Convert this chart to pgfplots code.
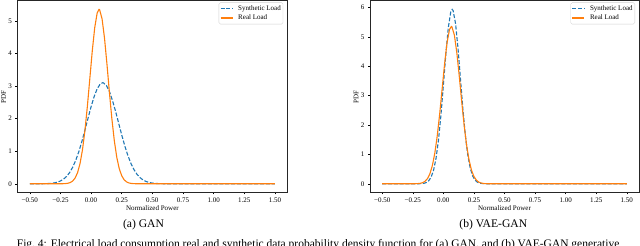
\documentclass[border=0pt]{standalone}
\usepackage{fontspec}
\setmainfont{Liberation Serif}
\usepackage{pgfplots}
\pgfplotsset{compat=1.18}
\definecolor{mplblue}{HTML}{1F77B4}
\definecolor{mplorange}{HTML}{FF7F0E}
\pgfplotsset{
  pdfax/.style={
    scale only axis,
    anchor=south west,
    xmin=-0.6, xmax=1.6,
    tick align=outside,
    major tick length=2pt,
    xtick pos=bottom, ytick pos=left,
    tick style={black, line width=0.5pt},
    axis line style={line width=0.6pt, black!85},
    xtick={-0.5,-0.25,0,0.25,0.5,0.75,1,1.25,1.5},
    xticklabels={−0.50,−0.25,0.00,0.25,0.50,0.75,1.00,1.25,1.50},
    ticklabel style={font=\fontsize{7}{8}\selectfont},
    label style={font=\fontsize{7}{8}\selectfont},
    xlabel={Normalized Power},
    ylabel={PDF},
    xlabel style={at={(axis description cs:0.5,0)}, anchor=center, yshift=-15.5pt},
    ylabel style={at={(axis description cs:0,0.5)}, anchor=center, yshift=14pt},
    legend cell align=left,
    legend style={at={(rel axis cs:1,1)}, anchor=north east, xshift=-4pt, yshift=-1.8pt,
      draw=black!18, rounded corners=1.5pt, fill=white, fill opacity=0.8, text opacity=1,
      font=\fontsize{7}{8}\selectfont, inner xsep=1.2pt, inner ysep=1.8pt, row sep=0.8pt,
      column sep=4pt,
      nodes={inner sep=1pt, text height=5pt, text depth=1.5pt}},
    legend image code/.code={\draw[#1] (0pt,0pt) -- (12pt,0pt);},
  },
  synth/.style={color=mplblue, line width=1.1pt, dash pattern=on 4pt off 1.8pt},
  real/.style={color=mplorange, line width=1.1pt},
}
\begin{document}
\begin{tikzpicture}
\useasboundingbox (0pt,0pt) rectangle (640pt,246pt);
\clip (0pt,0pt) rectangle (640pt,246pt);
% (a) GAN
\begin{axis}[pdfax, at={(17.5pt,53.5pt)}, width=269.7pt, height=191.8pt,
  ymin=-0.2675, ymax=5.6175, ytick={0,1,2,3,4,5}, yticklabels={0,1,2,3,4,5}]
\addplot[synth] coordinates {
(-0.5,0) (-0.45,0.0004) (-0.40,0.0019) (-0.375,0.0039) (-0.35,0.0079) (-0.325,0.0151)
(-0.30,0.0279) (-0.275,0.0498) (-0.25,0.0853) (-0.225,0.1409) (-0.20,0.2241)
(-0.175,0.3434) (-0.15,0.5063) (-0.125,0.7192) (-0.10,0.9837) (-0.075,1.296)
(-0.05,1.643) (-0.025,2.007) (0.00,2.361) (0.025,2.674) (0.05,2.916) (0.075,3.063)
(0.095,3.10) (0.10,3.098) (0.125,3.017) (0.15,2.829) (0.175,2.555) (0.20,2.222)
(0.225,1.861) (0.25,1.501) (0.275,1.166) (0.30,0.872) (0.325,0.628) (0.35,0.4357)
(0.375,0.2908) (0.40,0.1871) (0.425,0.1158) (0.45,0.0691) (0.475,0.0397) (0.50,0.0219)
(0.525,0.0117) (0.55,0.0060) (0.60,0.0014) (0.65,0.0003) (1.5,0)
};
\addlegendentry{Synthetic Load}
\addplot[real] coordinates {
(-0.5,0) (-0.30,0) (-0.27,0.0002) (-0.25,0.0007) (-0.23,0.0021) (-0.21,0.0060)
(-0.19,0.0156) (-0.17,0.0375) (-0.15,0.0841) (-0.13,0.1757) (-0.11,0.3413)
(-0.09,0.618) (-0.07,1.041) (-0.05,1.631) (-0.03,2.378) (-0.01,3.228) (0.01,4.077)
(0.03,4.793) (0.05,5.243) (0.065,5.35) (0.07,5.338) (0.09,5.058) (0.11,4.460)
(0.13,3.660) (0.15,2.795) (0.17,1.987) (0.19,1.314) (0.21,0.809) (0.23,0.463)
(0.25,0.247) (0.27,0.1226) (0.29,0.0566) (0.31,0.0243) (0.33,0.0097) (0.35,0.0036)
(0.37,0.0013) (0.40,0.0002) (1.5,0)
};
\addlegendentry{Real Load}
\end{axis}
% (b) VAE-GAN
\begin{axis}[pdfax, at={(370pt,53.5pt)}, width=269pt, height=191.8pt,
  ymin=-0.2965, ymax=6.2265, ytick={0,1,2,3,4,5,6}, yticklabels={0,1,2,3,4,5,6}]
\addplot[synth] coordinates {
(-0.5,0) (-0.25,0) (-0.22,0.0004) (-0.20,0.0017) (-0.18,0.0053) (-0.16,0.0155)
(-0.14,0.0415) (-0.12,0.1012) (-0.10,0.226) (-0.08,0.4625) (-0.06,0.8659)
(-0.04,1.484) (-0.02,2.329) (0.00,3.345) (0.02,4.399) (0.04,5.296) (0.06,5.836)
(0.072,5.93) (0.08,5.888) (0.10,5.438) (0.12,4.598) (0.14,3.559) (0.16,2.521)
(0.18,1.636) (0.20,0.9713) (0.22,0.5278) (0.24,0.2627) (0.26,0.1197) (0.28,0.0499)
(0.30,0.0190) (0.32,0.0067) (0.34,0.0021) (0.37,0.0003) (1.5,0)
};
\addlegendentry{Synthetic Load}
\addplot[real] coordinates {
(-0.5,0) (-0.30,0) (-0.27,0.0002) (-0.25,0.0007) (-0.23,0.0021) (-0.21,0.0060)
(-0.19,0.0156) (-0.17,0.0375) (-0.15,0.0841) (-0.13,0.1757) (-0.11,0.3413)
(-0.09,0.618) (-0.07,1.041) (-0.05,1.631) (-0.03,2.378) (-0.01,3.228) (0.01,4.077)
(0.03,4.793) (0.05,5.243) (0.065,5.35) (0.07,5.338) (0.09,5.058) (0.11,4.460)
(0.13,3.660) (0.15,2.795) (0.17,1.987) (0.19,1.314) (0.21,0.809) (0.23,0.463)
(0.25,0.247) (0.27,0.1226) (0.29,0.0566) (0.31,0.0243) (0.33,0.0097) (0.35,0.0036)
(0.37,0.0013) (0.40,0.0002) (1.5,0)
};
\addlegendentry{Real Load}
\end{axis}
\node[anchor=base, inner sep=0pt, font=\fontsize{11.6}{13}\selectfont] at (143.5pt,18.5pt) {(a) GAN};
\node[anchor=base, inner sep=0pt, font=\fontsize{11.6}{13}\selectfont] at (493.3pt,18.5pt) {(b) VAE-GAN};
\node[anchor=base west, inner sep=0pt, font=\fontsize{11.5}{13}\selectfont] at (16.7pt,-1.5pt)
  {Fig.~4: Electrical load consumption real and synthetic data probability density function for (a) GAN, and (b) VAE-GAN generative};
\end{tikzpicture}
\end{document}
